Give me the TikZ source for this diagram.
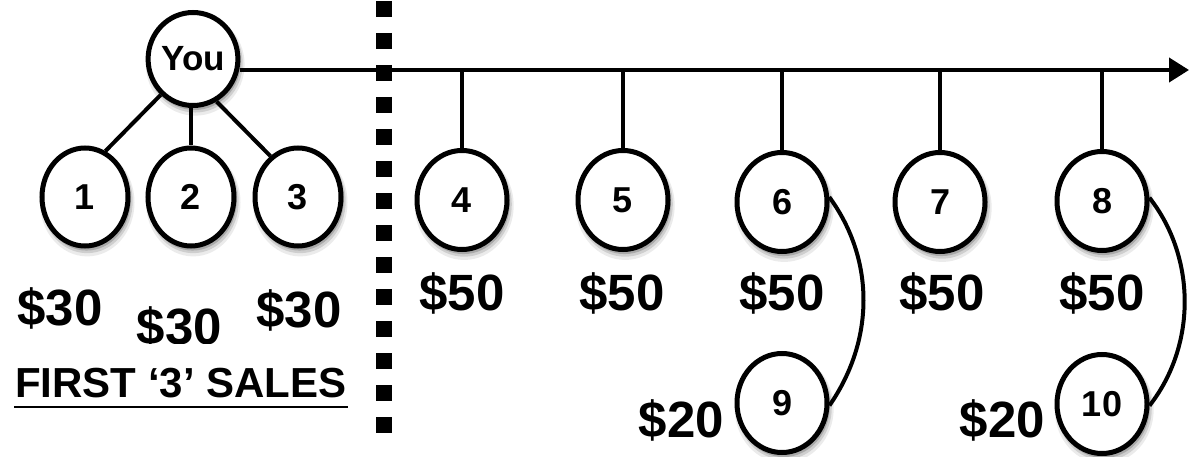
\documentclass[tikz,border=0pt]{standalone}
\usepackage{fontspec}
\setmainfont{Liberation Sans}
\usetikzlibrary{shapes.geometric,shadows,arrows.meta}
\tikzset{
  bub/.style={ellipse, draw, line width=5pt, fill=white, inner sep=0pt,
    minimum width=90pt, minimum height=99pt,
    font=\fontsize{36}{36}\selectfont\bfseries,
    general shadow={fill=black, opacity=0.08, shadow scale=1.10, shadow xshift=2pt, shadow yshift=-5pt},
    general shadow={fill=black, opacity=0.12, shadow scale=1.06, shadow xshift=2pt, shadow yshift=-4pt},
    general shadow={fill=black, opacity=0.18, shadow scale=1.03, shadow xshift=1.5pt, shadow yshift=-3pt}},
  money/.style={font=\fontsize{51}{51}\selectfont\bfseries, inner sep=0pt, anchor=base},
  conn/.style={line width=4pt},
}
\begin{document}
\begin{tikzpicture}[x=1pt,y=-1pt]
\useasboundingbox (0,0) rectangle (1190,457);
% dotted divider
\coordinate (d0) at (384,1);
\coordinate (d1) at (384,433);
\draw[line width=16pt, dash pattern=on 16pt off 16pt] (d0) -- (d1);
% nodes
\node[bub, minimum width=87pt, minimum height=93pt, font=\fontsize{35}{35}\selectfont\bfseries] (You) at (193,59) {You};
\node[bub, minimum width=86pt, minimum height=98pt] (c1) at (85,197) {1};
\node[bub, minimum width=86pt, minimum height=98pt] (c2) at (191,197) {2};
\node[bub, minimum width=86pt, minimum height=98pt] (c3) at (298,197) {3};
\node[bub] (c4) at (462,200) {4};
\node[bub] (c5) at (623,200) {5};
\node[bub] (c6) at (782,202) {6};
\node[bub] (c7) at (940,202) {7};
\node[bub] (c8) at (1102,201) {8};
\node[bub] (c9) at (782,403) {9};
\node[bub] (c10) at (1102,404) {10};
% axis
\coordinate (ax1) at (1189,70);
\draw[line width=4pt, -{Triangle[length=20pt,width=24pt]}] (You.east |- ax1) -- (ax1);
% tree connectors
\draw[conn] (You.228) -- (c1.66);
\draw[conn] (c2.north) -- (c2.north |- You.south);
\draw[conn] (You.299) -- (c3.124);
% drops
\foreach \n in {c4,c5,c6,c7,c8}{
  \draw[conn] (\n.north) -- (\n.north |- ax1);
}
% curves
\draw[conn] (c6.6) .. controls +(46,63) and +(45,-65) .. (c9.-3);
\draw[conn] (c8.4) .. controls +(47,60) and +(47,-60) .. (c10.-2);
% money labels
\node[money] (m1) at (60,325) {\$30};
\begin{scope}
  \clip (100,280) rectangle (260,343);
  \node[money] (m2) at (179.5,344) {\$30};
\end{scope}
\node[money] (m3) at (299,327) {\$30};
\node[money] (m4) at (462,310) {\$50};
\node[money] (m5) at (622,310) {\$50};
\node[money] (m6) at (782,310) {\$50};
\node[money] (m7) at (942,310) {\$50};
\node[money] (m8) at (1102,310) {\$50};
\node[money] (m9) at (681.5,437) {\$20};
\node[money] (m10) at (1002.5,437) {\$20};
% first sales
\node[font=\fontsize{42}{42}\selectfont\bfseries, inner sep=0pt, anchor=base west] (first) at (15,397) {FIRST ‘3’ SALES};
\draw[line width=2pt] (14,407) -- (348,407);
\end{tikzpicture}
\end{document}
